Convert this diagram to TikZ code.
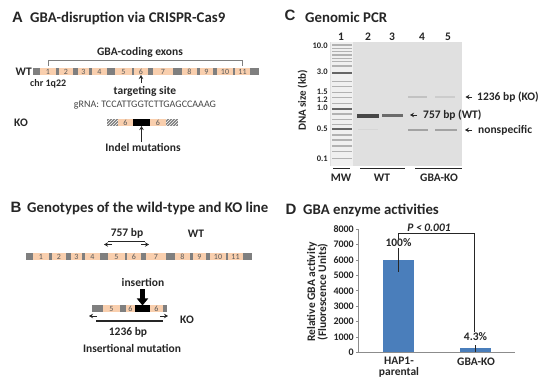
\documentclass[tikz,border=0pt]{standalone}
\usepackage{fontspec}
\setmainfont{Carlito}
\newfontfamily\letterfont{Liberation Sans}
\usetikzlibrary{positioning,arrows.meta,patterns,calc}

\definecolor{exonc}{HTML}{F9CFAE}
\definecolor{intronc}{HTML}{7F7F7F}
\definecolor{txtc}{HTML}{262626}
\definecolor{gelc}{HTML}{E0E0E0}
\definecolor{barc}{HTML}{4A7EBB}

\tikzset{
  letter/.style={font=\letterfont\fontsize{15}{15}\selectfont\bfseries,text=txtc,inner sep=0pt},
  ttl/.style={font=\fontsize{14.8}{15}\selectfont\bfseries,text=txtc,anchor=west,inner sep=0pt},
  lbl/.style={font=\fontsize{11.5}{11.5}\selectfont\bfseries,text=txtc,inner sep=0pt},
  exon/.style={rectangle,fill=exonc,inner sep=0pt,outer sep=0pt,minimum height=7pt,font=\fontsize{8}{8}\selectfont,text=black!65},
  intron/.style={rectangle,fill=intronc,inner sep=0pt,outer sep=0pt,minimum height=7pt},
  hatch/.style={intron,preaction={fill=intronc},pattern=north east lines,pattern color=white},
  ins/.style={rectangle,fill=black,inner sep=0pt,outer sep=0pt,minimum height=7pt},
  band/.style={rectangle,inner sep=0pt,outer sep=0pt,minimum height=3pt},
  tick/.style={font=\fontsize{10}{10}\selectfont\bfseries,text=txtc,inner sep=0pt},
  tinyarr/.style={-{Stealth[length=4pt,width=4.5pt]},line width=0.9pt,txtc},
  bigarr/.style={-{Triangle[length=7pt,width=11pt]},line width=4.5pt,black},
  barnode/.style={rectangle,fill=barc,inner sep=0pt,outer sep=0pt,anchor=south west,minimum width=31pt}
}

% grey gene with the 11 exons, #1 = prefix, (#2,#3) = left end
\newcommand{\genebar}[3]{%
  \node[intron,minimum width=226pt,anchor=west] (#1bar) at (#2,#3) {};
  \foreach \n/\a/\b in {1/7/23,2/26/40,3/45/56,4/59/74,5/82/99,6/101/115,7/120/140,8/149/164,9/167/180,10/184/200,11/202/217}
    \node[exon,minimum width={(\b-\a)*1pt},anchor=west] (#1\n) at ($(#1bar.west)+(\a,0)$) {\n};
}

\begin{document}
\begin{tikzpicture}[x=1pt,y=-1pt]
  \useasboundingbox[fill=white] (0,0) rectangle (550,385);

  % A
  \node[letter] (letA) at (17.5,17) {A};
  \node[ttl] (ttlA) at (30,18) {GBA-disruption via CRISPR-Cas9};
  \genebar{wt}{33}{71.5}
  \node[lbl,left=1pt of wtbar] (wtA) {WT};
  \node[lbl] (exons) at (140,52) {GBA-coding exons};
  \draw[intronc,line width=0.7pt] ([yshift=2pt]wt1.north) -- ([yshift=8pt]wt1.north) -- ([yshift=8pt]wt11.north) -- ([yshift=2pt]wt11.north);
  \node[lbl,anchor=west,font=\fontsize{10}{10}\selectfont\bfseries] (chr) at (30,84) {chr 1q22};
  \node[lbl] (tgt) at (145,91) {targeting site};
  \draw[tinyarr,shorten <=3pt] (tgt.north -| wt6.south) -- (wt6.south);
  \node[font=\fontsize{10}{10}\selectfont,text=txtc!85,inner sep=0pt] (grna) at (145,105) {gRNA: TCCATTGGTCTTGAGCCAAAG};
  \node[lbl] (koA) at (21,123) {KO};
  \node[hatch,minimum width=11pt,anchor=west] (kaL) at (107,122.5) {};
  \node[exon,minimum width=15pt,right=0pt of kaL] (ka6a) {6};
  \node[ins,minimum width=17pt,right=0pt of ka6a] (kaIns) {};
  \node[exon,minimum width=16pt,right=0pt of kaIns] (ka6b) {6};
  \node[hatch,minimum width=12pt,right=0pt of ka6b] (kaR) {};
  \node[lbl] (indel) at (143,148) {Indel mutations};
  \draw[tinyarr,shorten <=2pt] (indel.north -| kaIns.south) -- (kaIns.south);

  % B
  \node[letter] (letB) at (16,207) {B};
  \node[ttl] (ttlB) at (27,208) {Genotypes of the wild-type and KO line};
  \genebar{wb}{26}{256.5}
  \node[lbl] (b757) at (127,233) {757 bp};
  \node[lbl] (wtB) at (196,234) {WT};
  \coordinate (s757a) at (108,242);
  \coordinate (s757b) at (145,242);
  \draw[line width=1pt,txtc] (s757a) -- (s757b);
  \coordinate (f757a) at (112,244.5);
  \coordinate (f757b) at (104,244.5);
  \coordinate (r757a) at (141,244.5);
  \coordinate (r757b) at (149,244.5);
  \draw[tinyarr] (f757a) -- (f757b);
  \draw[tinyarr] (r757a) -- (r757b);

  \node[lbl] (insn) at (143,283) {insertion};
  \node[intron,minimum width=11pt,anchor=west] (kbL) at (92,309) {};
  \node[exon,minimum width=17pt,right=0pt of kbL] (kb5) {5};
  \node[intron,minimum width=6pt,right=0pt of kb5] (kbI) {};
  \node[exon,minimum width=9pt,right=0pt of kbI] (kb6a) {6};
  \node[ins,minimum width=15pt,right=0pt of kb6a] (kbIns) {};
  \node[exon,minimum width=13pt,right=0pt of kbIns] (kb6b) {6};
  \node[intron,minimum width=4pt,right=0pt of kb6b] (kbR) {};
  \draw[bigarr,shorten <=2pt] (insn.south -| kbIns.north) -- (kbIns.north);
  \coordinate (f1236a) at (97,316);
  \coordinate (f1236b) at (89,316);
  \coordinate (r1236a) at (160,316);
  \coordinate (r1236b) at (168,316);
  \draw[tinyarr] (f1236a) -- (f1236b);
  \draw[tinyarr] (r1236a) -- (r1236b);
  \coordinate (s1236a) at (96,321);
  \coordinate (s1236b) at (163,321);
  \draw[line width=1.5pt,txtc] (s1236a) -- (s1236b);
  \node[lbl] (b1236) at (128,332) {1236 bp};
  \node[lbl] (koB) at (187,320) {KO};
  \node[lbl] (insmut) at (132,348) {Insertional mutation};

  % C
  \node[letter] (letC) at (290,15) {C};
  \node[ttl] (ttlC) at (305,17) {Genomic PCR};
  \node[rectangle,fill=gelc,inner sep=0pt,outer sep=0pt,minimum width=132pt,minimum height=124pt,anchor=north west] (gel) at (330,42) {};
  \fill[black!6] (331,42) rectangle (353,166);
  \foreach \y in {45,48.3,51.7,55,58.3,61.7,66,81.7,86.7,92.3,97.3,103.3,114,119.3,124.3,135,140,146,151.7,158.3}
    \fill[black!30] (332,\y-0.6) rectangle (352,\y+0.6);
  \foreach \y in {72.7,109,129.3}
    \fill[black!60] (332,\y-1) rectangle (352,\y+1);
  \fill[black!16] (358,129.5) rectangle (378,130.5);
  \node[band,fill=black!72,minimum width=22pt,minimum height=3.5pt] (b2) at (368,116) {};
  \node[band,fill=black!58,minimum width=21pt] (b3) at (392.5,116) {};
  \node[band,fill=black!24,minimum width=19pt,minimum height=2pt] (b4hi) at (417.5,97) {};
  \node[band,fill=black!20,minimum width=20pt,minimum height=2pt] (b5hi) at (445,97) {};
  \node[band,fill=black!36,minimum width=20pt,minimum height=2.5pt] (b4lo) at (418,130) {};
  \node[band,fill=black!36,minimum width=22pt,minimum height=2.5pt] (b5lo) at (446,130) {};
  \foreach \n/\x in {1/341,2/368,3/392,4/422,5/448}
    \node[lbl] (lane\n) at (\x,37) {\n};
  \foreach \lab/\y [count=\i] in {10.0/46,3.0/72,1.5/92,1.2/100,1.0/108,0.5/129,0.1/159}
    \node[tick,anchor=east,font=\fontsize{8.5}{8.5}\selectfont\bfseries] (kb\i) at (328,\y) {\lab};
  \node[lbl,rotate=90,font=\fontsize{11}{11}\selectfont\bfseries] (dnasize) at (302.5,100.5) {DNA size (kb)};
  \node[lbl,anchor=west] (l1236) at (477,97) {1236 bp (KO)};
  \node[lbl,anchor=west] (l757) at (423,115) {757 bp (WT)};
  \node[lbl,anchor=west] (lns) at (478,130) {nonspecific};
  \draw[tinyarr,shorten <=5pt,shorten >=10.5pt] (l1236.west) -- (b5hi.east |- l1236.west);
  \draw[tinyarr,shorten <=6pt,shorten >=7pt] (l757.west) -- (b3.east |- l757.west);
  \draw[tinyarr,shorten <=6pt,shorten >=8pt] (lns.west) -- (b5lo.east |- lns.west);
  \draw[line width=1pt,txtc] (333,169) -- (350,169);
  \draw[line width=1pt,txtc] (360,169) -- (405,169);
  \draw[line width=1pt,txtc] (415,169) -- (462,169);
  \node[lbl] (mw) at (341,178) {MW};
  \node[lbl] (wtC) at (382,178) {WT};
  \node[lbl] (koC) at (439,178) {GBA-KO};

  % D
  \node[letter] (letD) at (291,209) {D};
  \node[ttl] (ttlD) at (303,210) {GBA enzyme activities};
  \begin{scope}[shift={(358,352.3)},y=0.01538pt]
    \draw[black!45,line width=0.6pt] (0,8000) -- (0,0) -- (157,0);
    \foreach \val in {0,1000,...,8000} {
      \draw[black!45,line width=0.6pt] (-2,\val) -- (0,\val);
      \node[tick,anchor=east] (yt\val) at (-4,\val) {\val};
    }
    \node[barnode,minimum height=92.28pt] (barHap) at (25,0) {};
    \node[barnode,minimum height=3.97pt] (barKo) at (102,0) {};
    \draw[txtc,line width=0.7pt] (40.5,5250) -- (40.5,6780);
    \draw[txtc,line width=0.7pt] (117,0) -- (117,480);
    \draw[txtc,line width=0.8pt] (40.5,7380) -- (40.5,7750) -- (116.5,7750) -- (116.5,1350);
    \node[lbl] (p100) at (40.5,7107) {100\%};
    \node[lbl] (p43) at (117.5,995) {4.3\%};
    \node[lbl,font=\fontsize{11.5}{11.5}\selectfont\bfseries\itshape] (pval) at (71,8100) {P < 0.001};
    \node[lbl,align=center] (xhap) at (41,-960) {HAP1-\\parental};
    \node[lbl] (xko) at (118,-630) {GBA-KO};
    \node[lbl,rotate=90,align=center,font=\fontsize{11.5}{11}\selectfont\bfseries] (ytitle) at (-40.5,3920) {Relative GBA activity\\(Fluorescence Units)};
  \end{scope}
\end{tikzpicture}
\end{document}
